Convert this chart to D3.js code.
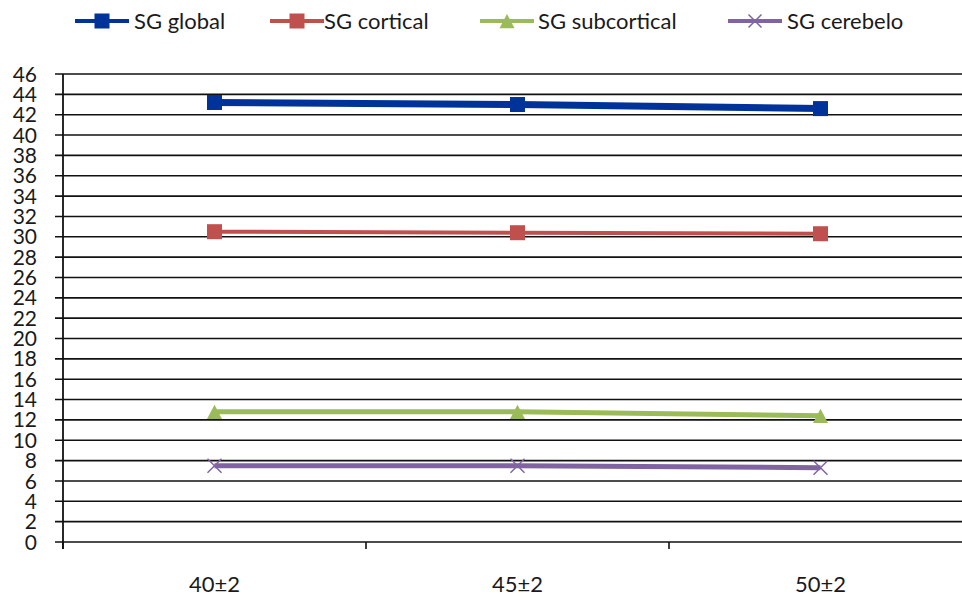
<!DOCTYPE html>
<html>
<head>
<meta charset="utf-8">
<script src="https://cdn.jsdelivr.net/npm/d3@7/dist/d3.min.js"></script>
<style>
  html, body { margin: 0; padding: 0; background: #fff; }
  svg { display: block; font-family: Lato, "Open Sans", sans-serif; }
</style>
</head>
<body>
<svg id="chart" width="962" height="597"></svg>
<script>
// Categories (age groups) and series values
const categories = ["40±2", "45±2", "50±2"];
const seriesNames = ["SG global", "SG cortical", "SG subcortical", "SG cerebelo"];
const sgGlobal = [43.2, 43.0, 42.6];
const sgCortical = [30.5, 30.4, 30.3];
const sgSubcortical = [12.8, 12.8, 12.4];
const sgCerebelo = [7.5, 7.5, 7.3];
const yTicks = d3.range(0, 47, 2);

const series = [
  { name: seriesNames[0], values: sgGlobal, color: "#003399", width: 7, marker: "square", size: 15 },
  { name: seriesNames[1], values: sgCortical, color: "#C0504D", width: 4, marker: "square", size: 15 },
  { name: seriesNames[2], values: sgSubcortical, color: "#9BBB59", width: 5, marker: "triangle", size: 15 },
  { name: seriesNames[3], values: sgCerebelo, color: "#8064A2", width: 5, marker: "x", size: 14 }
];

const svg = d3.select("#chart");
const plotLeft = 63, plotRight = 972, plotTop = 74, plotBottom = 542;
const textColor = "#1a1a1a";

const x = d3.scaleBand().domain(categories).range([plotLeft, plotRight]);
const y = d3.scaleLinear().domain([0, 46]).range([plotBottom, plotTop]);

// Horizontal gridlines with left tick marks
const grid = svg.append("g");
grid.selectAll("line").data(yTicks).join("line")
  .attr("x1", plotLeft - 8).attr("x2", 962)
  .attr("y1", d => y(d)).attr("y2", d => y(d))
  .attr("stroke", "#111").attr("stroke-width", 1.6);

// Y axis labels
svg.append("g").selectAll("text").data(yTicks).join("text")
  .attr("x", 37).attr("y", d => y(d))
  .attr("dy", "0.36em")
  .attr("text-anchor", "end")
  .attr("font-size", 21)
  .attr("fill", textColor)
  .text(d => d);

// Y axis line
svg.append("line")
  .attr("x1", plotLeft).attr("x2", plotLeft)
  .attr("y1", plotTop).attr("y2", plotBottom + 7)
  .attr("stroke", "#111").attr("stroke-width", 1.8);

// X axis ticks between categories
const xTickPos = [plotLeft, ...categories.slice(1).map(c => x(c))];
svg.append("g").selectAll("line").data(xTickPos).join("line")
  .attr("x1", d => d).attr("x2", d => d)
  .attr("y1", plotBottom).attr("y2", plotBottom + 7)
  .attr("stroke", "#111").attr("stroke-width", 1.6);

// X axis labels
svg.append("g").selectAll("text").data(categories).join("text")
  .attr("x", d => x(d) + x.bandwidth() / 2)
  .attr("y", 584)
  .attr("dy", "0.36em")
  .attr("text-anchor", "middle")
  .attr("font-size", 22)
  .attr("fill", textColor)
  .text(d => d);

function drawMarker(g, type, cx, cy, size, color) {
  if (type === "square") {
    g.append("rect")
      .attr("x", cx - size / 2).attr("y", cy - size / 2)
      .attr("width", size).attr("height", size)
      .attr("fill", color);
  } else if (type === "triangle") {
    const h = size * 0.95, w = size;
    g.append("path")
      .attr("d", `M${cx},${cy - h / 2}L${cx + w / 2},${cy + h / 2}L${cx - w / 2},${cy + h / 2}Z`)
      .attr("fill", color);
  } else if (type === "x") {
    const s = size / 2;
    g.append("path")
      .attr("d", `M${cx - s},${cy - s}L${cx + s},${cy + s}M${cx - s},${cy + s}L${cx + s},${cy - s}`)
      .attr("stroke", color).attr("stroke-width", 1.5).attr("fill", "none");
  }
}

const line = d3.line()
  .x((d, i) => x(categories[i]) + x.bandwidth() / 2)
  .y(d => y(d));

series.forEach(s => {
  const g = svg.append("g");
  g.append("path")
    .attr("d", line(s.values))
    .attr("fill", "none")
    .attr("stroke", s.color)
    .attr("stroke-width", s.width);
  s.values.forEach((v, i) => {
    drawMarker(g, s.marker, x(categories[i]) + x.bandwidth() / 2, y(v), s.size, s.color);
  });
});

// Legend
const legendLineX = [75, 270, 480, 728];
const legendTextX = [134, 324, 538, 787];
const legendLen = 54;
const legend = svg.append("g");
series.forEach((s, i) => {
  const g = legend.append("g").attr("transform", `translate(${legendLineX[i]},21)`);
  g.append("line").attr("x1", 0).attr("x2", legendLen).attr("y1", 0).attr("y2", 0)
    .attr("stroke", s.color).attr("stroke-width", 4);
  drawMarker(g, s.marker, legendLen / 2, 0, s.marker === "x" ? 13 : 15, s.color);
  g.append("text").attr("x", legendTextX[i] - legendLineX[i]).attr("y", 0).attr("dy", "0.36em")
    .attr("font-size", 22).attr("fill", textColor).text(s.name);
});
</script>
</body>
</html>
